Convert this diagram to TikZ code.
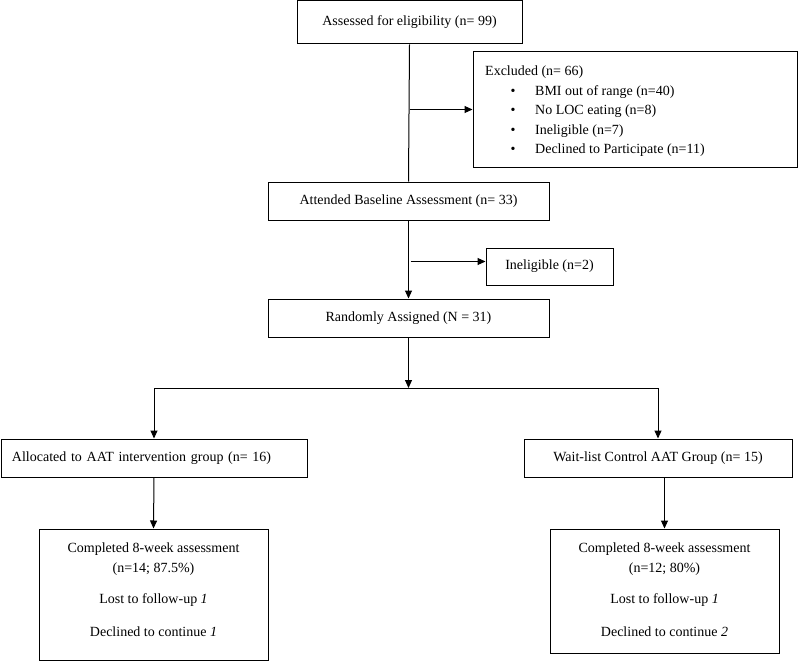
\documentclass[tikz,border=0pt]{standalone}
\usepackage{fontspec}
\setmainfont{Liberation Serif}
\usetikzlibrary{calc,arrows.meta}

\tikzset{
	box/.style={draw, line width=1pt, inner sep=0pt, align=center},
	arr/.style={line width=1pt, -{Triangle[length=8pt,width=7pt]}},
	ln/.style={line width=1pt}
}

\begin{document}
\begin{tikzpicture}[x=1pt,y=-1pt,font=\fontsize{14}{20}\selectfont]
				\useasboundingbox (0,0) rectangle (800,661);
				
				\node[box, minimum width=225pt, minimum height=43pt] (assess) at (409.5,22.5) {Assessed for eligibility (n= 99)};
				\node[box, minimum width=324pt, minimum height=115pt] (excl) at (635,109.5) {};
				\node[anchor=west, inner sep=0pt] (exclhead) at (485,72) {Excluded (n= 66)};
				\foreach \y/\txt [count=\i] in {92/BMI out of range (n=40), 111.5/No LOC eating (n=8), 131/Ineligible (n=7), 150.5/Declined to Participate (n=11)}{
					\node[inner sep=0pt] (bul\i) at (513,\y) {\textbullet};
					\node[anchor=west, inner sep=0pt] (item\i) at (535,\y) {\txt};}
				
				\node[box, minimum width=281pt, minimum height=38pt] (base) at (408.5,201) {Attended Baseline Assessment (n= 33)};
				\node[box, minimum width=127pt, minimum height=37pt] (inel) at (549.5,266.5) {Ineligible (n=2)};
				\node[box, minimum width=281pt, minimum height=38pt] (rand) at (408.5,318) {Randomly Assigned (N = 31)};
				\coordinate (split) at (408.5,388);
				
				\node[box, minimum width=306pt, minimum height=38pt, text width=284pt, align=left] (alloc) at (154,458) {Allocated to AAT intervention group (n= 16)};
				\node[box, minimum width=268pt, minimum height=38pt] (wait) at (658,458) {Wait-list Control AAT Group (n= 15)};
				
				\node[box, minimum width=229pt, minimum height=131pt] (comp1) at (153.5,594.5) {};
				\node[inner sep=0pt, align=center, anchor=north] (txt1) at (153.5,543) {Completed 8-week assessment\\(n=14; 87.5\%)\\[11pt]Lost to follow-up \textit{1}\\[13pt]Declined to continue \textit{1}};
				\node[box, minimum width=229pt, minimum height=124pt] (comp2) at (664.5,591) {};
				\node[inner sep=0pt, align=center, anchor=north] (txt2) at (664.5,543) {Completed 8-week assessment\\(n=12; 80\%)\\[11pt]Lost to follow-up \textit{1}\\[13pt]Declined to continue \textit{2}};
				
				
				\draw[ln] (assess.south) -- (base.north);
				\draw[arr] (assess.south |- excl.west) -- (excl.west);
				\draw[arr] (base.south) -- (rand.north);
				\draw[arr] ($(base.south |- inel.west)+(2,-5)$) -- ($(inel.west)+(0,-5)$);
				
				\draw[arr] (rand.south) -- (split);
				\draw[ln] (split -| alloc.north) -- (split -| wait.north);
				\draw[arr] (split -| alloc.north) -- (alloc.north);
				\draw[arr] (split -| wait.north) -- (wait.north);
				
				\draw[arr] (alloc.south) -- (comp1.north);
				\draw[arr] (comp2.north |- wait.south) -- (comp2.north);
\end{tikzpicture}
\end{document}
